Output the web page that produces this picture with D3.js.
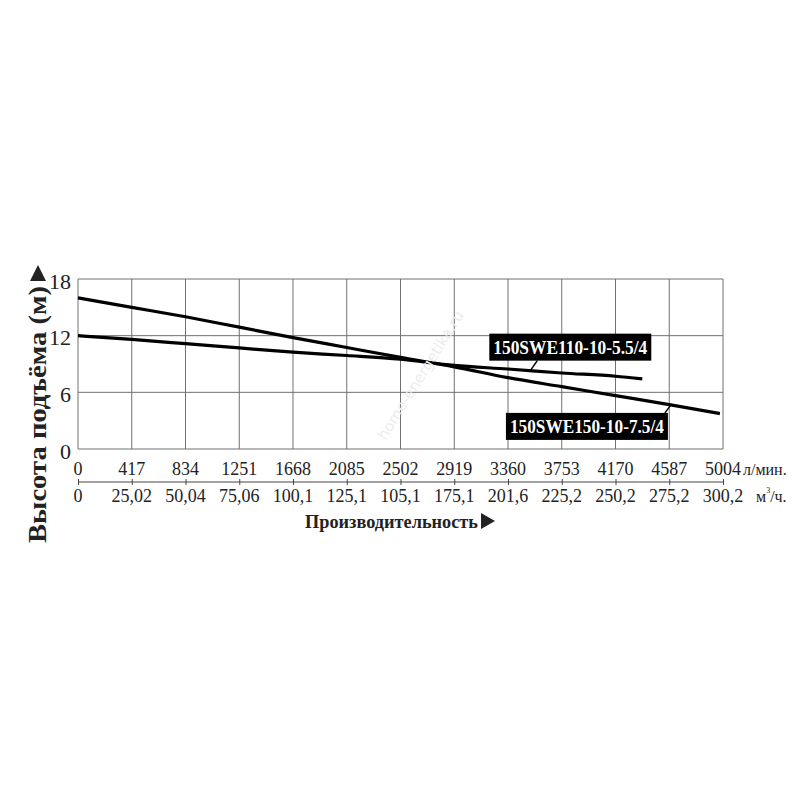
<!DOCTYPE html>
<html>
<head>
  <meta charset="utf-8">
  <title></title>
  <style type="text/css">
    body {margin: 0; background: #fff;}
    text {font-family: "Liberation Serif", "Times New Roman", serif;}
    .gridLine {stroke: #707070; stroke-width: 1px}
    .pumpLine {stroke: #000; stroke-width: 3.2px; fill: none}
  </style>
</head>
<body>
<script src="https://d3js.org/d3.v7.min.js"></script>
<div id="my_dataviz"></div>
<script>
// head axis (m)
var headTicks = [0, 6, 12, 18];
// flow axis: positions in l/min and the labels printed under them
var flowTicks = [0, 417, 834, 1251, 1668, 2085, 2502, 2919, 3336, 3753, 4170, 4587, 5004];
var lpmLabels = ["0", "417", "834", "1251", "1668", "2085", "2502", "2919", "3360", "3753", "4170", "4587", "5004"];
var m3hLabels = ["0", "25,02", "50,04", "75,06", "100,1", "125,1", "105,1", "175,1", "201,6", "225,2", "250,2", "275,2", "300,2"];

// pump curves, flow l/min -> head m
var pump150Flow = [0, 417, 834, 1251, 1668, 2085, 2502, 2919, 3336, 3753, 4170, 4587, 4980];
var pump150Head = [16.0, 15.0, 14.0, 12.9, 11.8, 10.75, 9.7, 8.7, 7.55, 6.6, 5.65, 4.7, 3.75];
var pump110Flow = [0, 417, 834, 1251, 1668, 2085, 2502, 2919, 3336, 3753, 4170, 4378];
var pump110Head = [12.0, 11.6, 11.15, 10.7, 10.25, 9.9, 9.5, 8.85, 8.47, 8.05, 7.7, 7.42];

var pumpNames = ["150SWE110-10-5.5/4", "150SWE150-10-7.5/4"];
// where the label leaders touch the curves (l/min)
var labelFlow = [3509, 4600];

var margin = {top: 279, left: 78},
    width = 645,
    height = 170;

var svg = d3.select("#my_dataviz")
  .append("svg")
    .attr("width", 800)
    .attr("height", 800);
var plot = svg.append("g")
    .attr("transform", "translate(" + margin.left + "," + margin.top + ")");

var x = d3.scaleLinear().domain([0, 5004]).range([0, width]);
var y = d3.scaleLinear().domain([0, 18]).range([height, 0]);

drawWatermark();
drawGrid();
drawAxes();
drawPump(pump110Flow, pump110Head);
drawPump(pump150Flow, pump150Head);
drawLabel(0, pump110Flow, pump110Head, {dx: -41, dy: -37, lx: 7});
drawLabel(1, pump150Flow, pump150Head, {dx: -165, dy: 8, lx: -6});
drawTitles();

function drawWatermark()
{
  svg.append("text")
    .attr("transform", "translate(425,378) rotate(-58)")
    .attr("text-anchor", "middle")
    .style("font-family", "'DejaVu Sans', sans-serif")
    .style("font-size", "15px")
    .style("fill", "#ececec")
    .text("home-energetika.ru");
}

function drawGrid()
{
  plot.append("g")
    .selectAll("line")
    .data(flowTicks)
    .enter()
    .append("line")
      .attr("class", "gridLine")
      .attr("x1", function(d) { return x(d) })
      .attr("x2", function(d) { return x(d) })
      .attr("y1", 0)
      .attr("y2", height);
  plot.append("g")
    .selectAll("line")
    .data(headTicks)
    .enter()
    .append("line")
      .attr("class", "gridLine")
      .attr("x1", 0)
      .attr("x2", width)
      .attr("y1", function(d) { return y(d) })
      .attr("y2", function(d) { return y(d) });
}

function drawAxes()
{
  // head labels
  plot.append("g")
    .selectAll("text")
    .data(headTicks)
    .enter()
    .append("text")
      .attr("x", -7)
      .attr("y", function(d) { return y(d) + 2 })
      .attr("text-anchor", "end")
      .attr("dominant-baseline", "central")
      .style("font-size", "22px")
      .style("fill", "#222")
      .text(function(d) { return d });
  // l/min labels
  plot.append("g")
    .selectAll("text")
    .data(flowTicks)
    .enter()
    .append("text")
      .attr("x", function(d) { return x(d) })
      .attr("y", height + 26)
      .attr("text-anchor", "middle")
      .style("font-size", "18px")
      .style("fill", "#222")
      .text(function(d, i) { return lpmLabels[i] });
  // second scale line with small ticks
  var ax = plot.append("g")
      .attr("transform", "translate(0," + (height + 33) + ")")
      .call(d3.axisBottom(x).tickValues(flowTicks).tickSize(3).tickFormat(""));
  ax.select(".domain").attr("d", "M0,0H" + width).style("stroke", "#444");
  ax.selectAll(".tick line").attr("y1", -3).style("stroke", "#444");
  // m3/h labels
  plot.append("g")
    .selectAll("text")
    .data(flowTicks)
    .enter()
    .append("text")
      .attr("x", function(d) { return x(d) })
      .attr("y", height + 53)
      .attr("text-anchor", "middle")
      .style("font-size", "18px")
      .style("fill", "#222")
      .text(function(d, i) { return m3hLabels[i] });
  // units
  plot.append("text")
    .attr("x", width + 20)
    .attr("y", height + 26)
    .style("font-size", "16px")
    .style("fill", "#222")
    .text("л/мин.");
  var u = plot.append("text")
    .attr("x", width + 33)
    .attr("y", height + 53)
    .style("font-size", "16px")
    .style("fill", "#222");
  u.append("tspan").text("м");
  u.append("tspan").attr("dy", -9).style("font-size", "8px").text("3");
  u.append("tspan").attr("dy", 9).text("/ч.");
}

function drawPump(flow, head)
{
  var data = flow.map(function(f, i) { return [f, head[i]] });
  plot.append("path")
    .datum(data)
    .attr("class", "pumpLine")
    .attr("d", d3.line()
      .curve(d3.curveMonotoneX)
      .x(function(d) { return x(d[0]) })
      .y(function(d) { return y(d[1]) }));
}

function drawLabel(i, flow, head, off)
{
  var fx = labelFlow[i];
  var hy = d3.scaleLinear().domain(flow).range(head)(fx);
  var px = x(fx), py = y(hy);
  var bw = 162, bh = 27;
  var bx = px + off.dx, by = py + off.dy;
  // leader from the curve to the box
  var ly = off.dy < 0 ? by + bh : by;
  plot.append("line")
    .attr("x1", px).attr("y1", py)
    .attr("x2", px + off.lx).attr("y2", ly)
    .style("stroke", "#000")
    .style("stroke-width", 1.5);
  plot.append("rect")
    .attr("x", bx).attr("y", by)
    .attr("width", bw).attr("height", bh)
    .attr("fill", "#000");
  plot.append("text")
    .attr("x", bx + bw / 2)
    .attr("y", by + bh / 2 + 1)
    .attr("text-anchor", "middle")
    .attr("dominant-baseline", "central")
    .attr("textLength", bw - 8)
    .attr("lengthAdjust", "spacingAndGlyphs")
    .style("font-size", "18px")
    .style("font-weight", "bold")
    .style("fill", "#fff")
    .text(pumpNames[i]);
}

function drawTitles()
{
  // x title with arrow
  svg.append("text")
    .attr("x", 305)
    .attr("y", 528)
    .attr("textLength", 173)
    .attr("lengthAdjust", "spacingAndGlyphs")
    .style("font-size", "19px")
    .style("font-weight", "bold")
    .style("fill", "#222")
    .text("Производительность");
  svg.append("path")
    .attr("d", "M481,513 L495,521 L481,529 Z")
    .attr("fill", "#222");
  // y title with arrow
  svg.append("text")
    .attr("transform", "translate(46,543) rotate(-90)")
    .attr("textLength", 257)
    .attr("lengthAdjust", "spacingAndGlyphs")
    .style("font-size", "25px")
    .style("font-weight", "bold")
    .style("fill", "#222")
    .text("Высота подъёма (м)");
  svg.append("path")
    .attr("d", "M30,281 L38,265 L46,281 Z")
    .attr("fill", "#222");
}
</script>
</body>
</html>
